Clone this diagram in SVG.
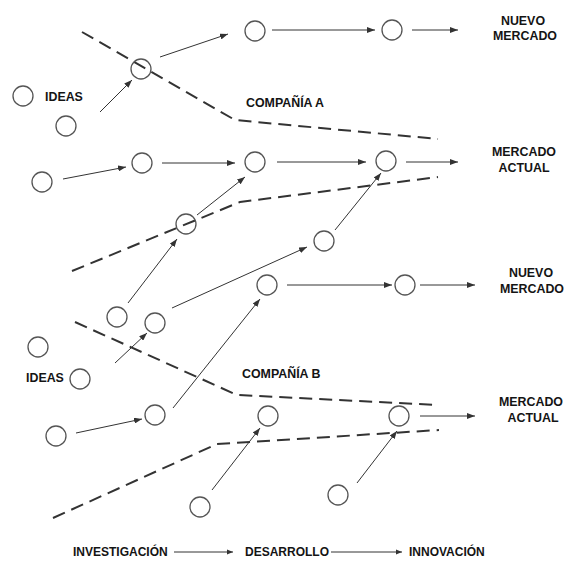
<svg xmlns="http://www.w3.org/2000/svg" width="564" height="561" viewBox="0 0 564 561">
  <style>
    .node circle { fill: #ffffff; stroke: #555555; stroke-width: 1.3; }
    .lbl { font-family: "Liberation Sans", Arial, sans-serif; font-weight: bold; font-size: 12.4px; fill: #141414; }
    .stage { font-size: 12px; }
    .mid { text-anchor: middle; }
    .arrow { stroke: #333333; stroke-width: 1; fill: none; marker-end: url(#head); }
    .boundary { stroke: #333333; stroke-width: 2; fill: none; stroke-dasharray: 13 7; }
    .flow { stroke: #333333; stroke-width: 1; fill: none; marker-end: url(#headSmall); }
  </style>
  <defs>
    <marker id="head" viewBox="0 0 8 6" refX="8" refY="3" markerWidth="8" markerHeight="6" markerUnits="userSpaceOnUse" orient="auto">
      <path d="M0,0 L8,3 L0,6 z" fill="#333333"/>
    </marker>
    <marker id="headSmall" viewBox="0 0 6 6" refX="6" refY="3" markerWidth="6" markerHeight="6" markerUnits="userSpaceOnUse" orient="auto">
      <path d="M0,0.5 L6,3 L0,5.5 z" fill="#333333"/>
    </marker>
  </defs>

  <rect width="564" height="561" fill="#ffffff"/>

  <!-- company boundaries -->
  <g id="boundaries">
    <polyline class="boundary" points="82,32 235,120 438,139"/>
    <polyline class="boundary" points="72,271 240,202 438,177"/>
    <polyline class="boundary" points="75,322 237,395 439,405"/>
    <polyline class="boundary" points="53,518 217,444 439,430"/>
  </g>

  <!-- connectors -->
  <g id="connectors">
    <line class="arrow" x1="160" y1="57" x2="228" y2="34"/>
    <line class="arrow" x1="272" y1="30" x2="375" y2="30"/>
    <line class="arrow" x1="412" y1="30" x2="458" y2="30"/>
    <line class="arrow" x1="100" y1="112" x2="132" y2="80"/>
    <line class="arrow" x1="63" y1="179" x2="126" y2="167"/>
    <line class="arrow" x1="162" y1="163" x2="235" y2="163"/>
    <line class="arrow" x1="277" y1="162" x2="366" y2="162"/>
    <line class="arrow" x1="406" y1="162" x2="458" y2="162"/>
    <line class="arrow" x1="197" y1="215" x2="245" y2="177"/>
    <line class="arrow" x1="128" y1="303" x2="177" y2="239"/>
    <line class="arrow" x1="335" y1="230" x2="381" y2="173"/>
    <line class="arrow" x1="172" y1="308" x2="307" y2="247"/>
    <line class="arrow" x1="287" y1="285" x2="392" y2="285"/>
    <line class="arrow" x1="420" y1="285" x2="475" y2="285"/>
    <line class="arrow" x1="115" y1="363" x2="147" y2="333"/>
    <line class="arrow" x1="173" y1="408" x2="260" y2="299"/>
    <line class="arrow" x1="76" y1="433" x2="142" y2="419"/>
    <line class="arrow" x1="212" y1="490" x2="260" y2="428"/>
    <line class="arrow" x1="357" y1="483" x2="397" y2="431"/>
    <line class="arrow" x1="420" y1="416" x2="475" y2="416"/>
    <line class="flow" x1="174" y1="552" x2="233" y2="552"/>
    <line class="flow" x1="331" y1="552" x2="402" y2="552"/>
  </g>

  <!-- nodes -->
  <g id="n1" class="node"><circle cx="255" cy="31" r="10"/></g>
  <g id="n2" class="node"><circle cx="392" cy="30" r="10"/></g>
  <g id="n3" class="node"><circle cx="141" cy="69" r="10" style="fill:none"/></g>
  <g id="n4" class="node"><circle cx="23" cy="96" r="10"/></g>
  <g id="n5" class="node"><circle cx="66" cy="126" r="10"/></g>
  <g id="n6" class="node"><circle cx="142" cy="163" r="10"/></g>
  <g id="n7" class="node"><circle cx="255" cy="162" r="10"/></g>
  <g id="n8" class="node"><circle cx="42" cy="182" r="10"/></g>
  <g id="n9" class="node"><circle cx="386" cy="161" r="10"/></g>
  <g id="n10" class="node"><circle cx="186" cy="224" r="10" style="fill:none"/></g>
  <g id="n11" class="node"><circle cx="324" cy="241" r="10"/></g>
  <g id="n12" class="node"><circle cx="117" cy="317" r="10"/></g>
  <g id="n13" class="node"><circle cx="155" cy="323" r="10"/></g>
  <g id="n14" class="node"><circle cx="267" cy="285" r="10"/></g>
  <g id="n15" class="node"><circle cx="405" cy="285" r="10"/></g>
  <g id="n16" class="node"><circle cx="38" cy="347" r="10"/></g>
  <g id="n17" class="node"><circle cx="80" cy="379" r="10"/></g>
  <g id="n18" class="node"><circle cx="155" cy="415" r="10"/></g>
  <g id="n19" class="node"><circle cx="56" cy="436" r="10"/></g>
  <g id="n20" class="node"><circle cx="268" cy="416" r="10"/></g>
  <g id="n21" class="node"><circle cx="399" cy="416" r="10"/></g>
  <g id="n22" class="node"><circle cx="200" cy="507" r="10"/></g>
  <g id="n23" class="node"><circle cx="338" cy="495" r="10"/></g>

  <!-- labels -->
  <g id="labels">
    <text class="lbl mid" x="523" y="25">NUEVO</text>
    <text class="lbl mid" x="525" y="40">MERCADO</text>
    <text class="lbl" x="45" y="101">IDEAS</text>
    <text class="lbl" x="246" y="107">COMPAÑÍA A</text>
    <text class="lbl mid" x="524" y="156">MERCADO</text>
    <text class="lbl mid" x="524" y="172">ACTUAL</text>
    <text class="lbl mid" x="531" y="277">NUEVO</text>
    <text class="lbl mid" x="532" y="293">MERCADO</text>
    <text class="lbl" x="242" y="378">COMPAÑÍA B</text>
    <text class="lbl" x="26" y="382">IDEAS</text>
    <text class="lbl mid" x="531" y="406">MERCADO</text>
    <text class="lbl mid" x="533" y="422">ACTUAL</text>
    <text class="lbl stage" x="73" y="556">INVESTIGACIÓN</text>
    <text class="lbl stage" x="245" y="556">DESARROLLO</text>
    <text class="lbl stage" x="409" y="556">INNOVACIÓN</text>
  </g>
</svg>
